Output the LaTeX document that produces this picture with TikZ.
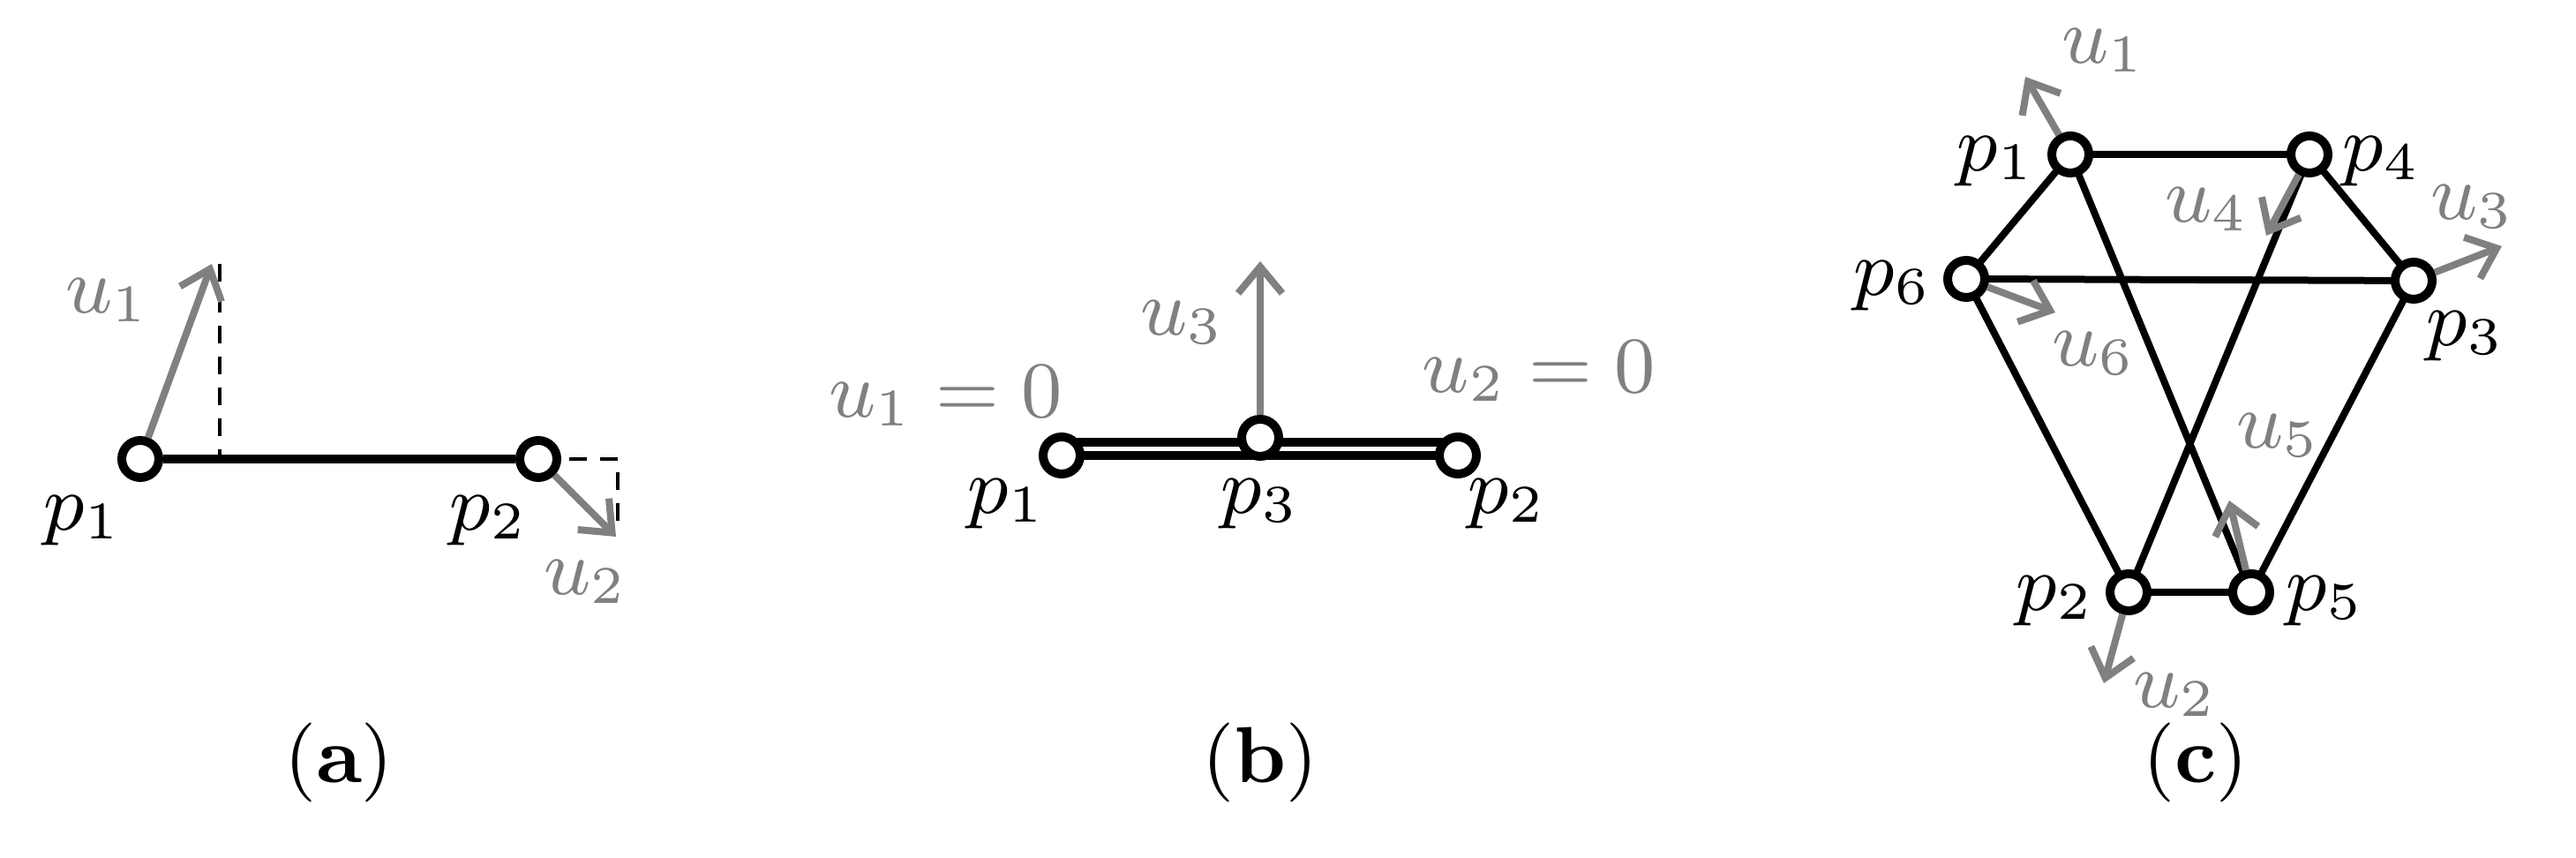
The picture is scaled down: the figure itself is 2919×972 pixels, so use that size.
\documentclass[tikz,border=0pt]{standalone}
\usetikzlibrary{arrows.meta}
\begin{document}
\begin{tikzpicture}[x=0.1pt,y=-0.1pt,
 pt/.style={circle,draw,line width=1pt,fill=white,inner sep=0pt,minimum size=4.2pt},
 edge/.style={line width=1pt},
 vec/.style={draw=gray,line width=0.8pt,-{Straight Barb[length=3pt,width=5pt]}},
 lbl/.style={font=\fontsize{9}{11}\selectfont},
 glbl/.style={lbl,text=gray},
 dsh/.style={dashed,line width=0.4pt,dash pattern=on 2pt off 1.5pt}]
\useasboundingbox (0,0) rectangle (2919,972);
% (a)
\coordinate (a1u) at (240,299);
\coordinate (a1d) at (249,299);
\coordinate (a1b) at (249,520);
\coordinate (a2r) at (700,520);
\coordinate (a2u) at (698,608);
\draw[dsh] (a1d) -- (a1b);
\draw[dsh] (610,520) -- (a2r) -- (700,600);
\node[pt] (ap1) at (159,520) {};
\node[pt] (ap2) at (610,520) {};
\draw[edge] (ap1) -- (ap2);
\draw[vec] (ap1) -- (a1u);
\draw[vec] (ap2) -- (a2u);
\node[glbl] (au1) at (122,340) {$u_1$};
\node[glbl] (au2) at (664,659) {$u_2$};
\node[lbl] (ap1l) at (94,590) {$p_1$};
\node[lbl] (ap2l) at (554,590) {$p_2$};
\node[lbl] (acap) at (384,864) {$(\mathbf{a})$};
% (b)
\draw[edge] (1203,501) -- (1652,501);
\draw[edge] (1203,516) -- (1652,516);
\node[pt] (bp1) at (1203,516) {};
\node[pt] (bp2) at (1652,516) {};
\node[pt] (bp3) at (1428,496) {};
\coordinate (b3u) at (1428,296);
\draw[vec] (bp3) -- (b3u);
\node[glbl] (bu1) at (1072,449) {$u_1=0$};
\node[glbl] (bu2) at (1744,421) {$u_2=0$};
\node[glbl] (bu3) at (1340,365) {$u_3$};
\node[lbl] at (1141,571) {$p_1$};
\node[lbl] at (1428,571) {$p_3$};
\node[lbl] at (1708,571) {$p_2$};
\node[lbl] at (1428,864) {$(\mathbf{b})$};
% (c)
\coordinate (P1) at (2346,175);
\coordinate (P4) at (2617,175);
\coordinate (P6) at (2228,316);
\coordinate (P3) at (2735,318);
\coordinate (P2) at (2412,671);
\coordinate (P5) at (2551,671);
\draw[edge,line width=0.8pt] (P1)--(P4) (P1)--(P6) (P1)--(P5) (P4)--(P3) (P4)--(P2) (P6)--(P3) (P6)--(P2) (P3)--(P5) (P2)--(P5);
\node[pt] (c1) at (P1) {};
\node[pt] (c4) at (P4) {};
\node[pt] (c6) at (P6) {};
\node[pt] (c3) at (P3) {};
\node[pt] (c2) at (P2) {};
\node[pt] (c5) at (P5) {};
\draw[vec] (c1) -- (2295,87);
\draw[vec] (c4) -- (2568,267);
\draw[vec] (c3) -- (2835,279);
\draw[vec] (c6) -- (2329,354);
\draw[vec] (c5) -- (2526,567);
\draw[vec] (c2) -- (2384,774);
\node[glbl] at (2384,57) {$u_1$};
\node[glbl] at (2501,237) {$u_4$};
\node[glbl] at (2802,234) {$u_3$};
\node[glbl] at (2373,400) {$u_6$};
\node[glbl] at (2582,493) {$u_5$};
\node[glbl] at (2465,787) {$u_2$};
\node[lbl] at (2262,183) {$p_1$};
\node[lbl] at (2699,183) {$p_4$};
\node[lbl] at (2145,324) {$p_6$};
\node[lbl] at (2794,381) {$p_3$};
\node[lbl] at (2329,681) {$p_2$};
\node[lbl] at (2635,681) {$p_5$};
\node[lbl] at (2488,864) {$(\mathbf{c})$};
\end{tikzpicture}
\end{document}
